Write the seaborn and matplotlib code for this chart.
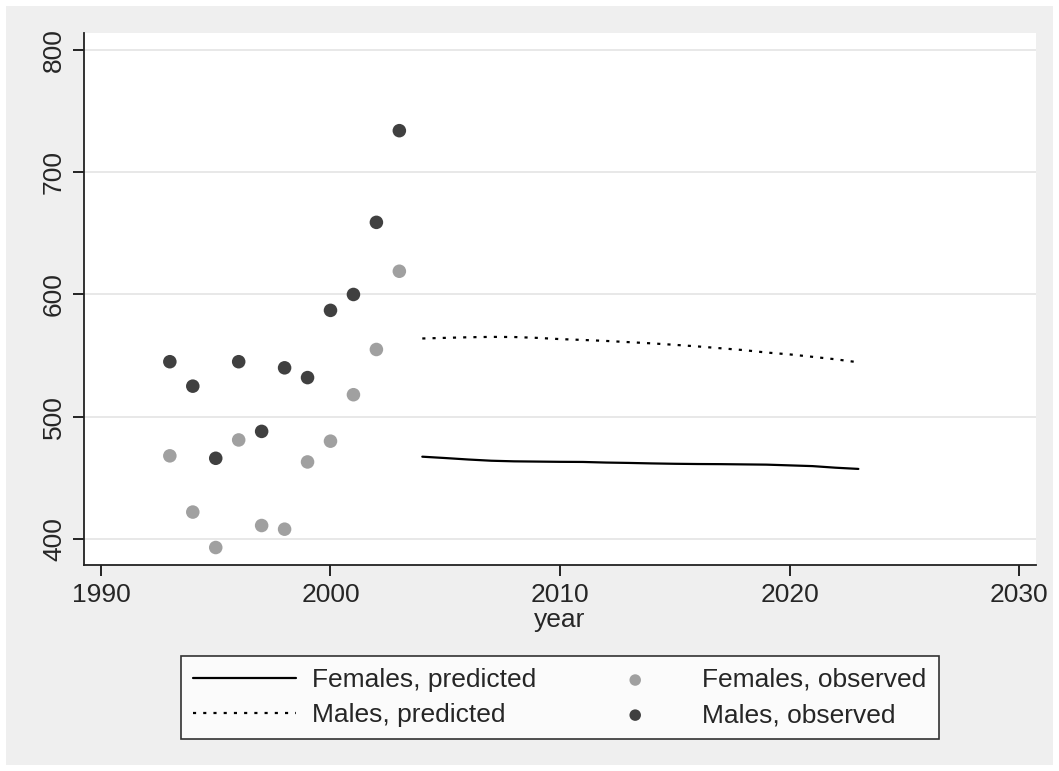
#!/usr/bin/env python3
import matplotlib
matplotlib.use('Agg')
import matplotlib.pyplot as plt
from matplotlib.patches import Rectangle
import seaborn as sns
import pandas as pd

# Observed values
obs_years = [1993, 1994, 1995, 1996, 1997, 1998, 1999, 2000, 2001, 2002, 2003]
females_obs = [468, 422, 393, 481, 411, 408, 463, 480, 518, 555, 619]
males_obs = [545, 525, 466, 545, 488, 540, 532, 587, 600, 659, 734]

# Predicted values
pred_years = list(range(2004, 2024))
females_pred = [467.3, 466.2, 465.0, 464.0, 463.5, 463.3, 463.1, 463.0, 462.5, 462.2,
                461.8, 461.5, 461.3, 461.2, 461.0, 460.8, 460.2, 459.6, 458.3, 457.3]
males_pred = [564.0, 564.5, 565.0, 565.3, 565.2, 564.5, 563.5, 562.8, 562.0, 561.0,
              560.0, 558.8, 557.5, 556.0, 554.5, 552.5, 551.0, 549.0, 547.0, 544.5]

xticks = [1990, 2000, 2010, 2020, 2030]
yticks = [400, 500, 600, 700, 800]

obs = pd.DataFrame({'year': obs_years, 'females': females_obs, 'males': males_obs})
pred = pd.DataFrame({'year': pred_years, 'females': females_pred, 'males': males_pred})

sns.set_style('white')
plt.rcParams['font.family'] = ['Liberation Sans', 'DejaVu Sans']

fig = plt.figure(figsize=(10.59, 7.71), dpi=100)
fig.patch.set_facecolor('white')
# Stata-like grey outer region
fig.patches.append(Rectangle((6 / 1059, 6 / 771), 1047 / 1059, 759 / 771,
                             transform=fig.transFigure, facecolor='#efefef',
                             edgecolor='none', zorder=-10))
ax = fig.add_axes([84 / 1059, 1 - 565 / 771, 952 / 1059, 532 / 771])
ax.set_facecolor('white')

sns.lineplot(data=pred, x='year', y='females', ax=ax, color='black', lw=1.6,
             label='Females, predicted')
sns.lineplot(data=pred, x='year', y='males', ax=ax, color='black', lw=1.6,
             linestyle=(0, (1.4, 3.2)), label='Males, predicted')
sns.scatterplot(data=obs, x='year', y='females', ax=ax, color='#a0a0a0', s=95,
                edgecolor='none', label='Females, observed')
sns.scatterplot(data=obs, x='year', y='males', ax=ax, color='#404040', s=95,
                edgecolor='none', label='Males, observed')

ax.set_xlim(1989.26, 2030.74)
ax.set_ylim(378.7, 813.9)
ax.set_xticks(xticks)
ax.set_yticks(yticks)
ax.set_yticklabels([str(v) for v in yticks], rotation=90, va='center')
ax.grid(axis='y', color='#e6e6e6', lw=1.3)
ax.grid(axis='x', visible=False)
ax.tick_params(axis='both', direction='out', length=8, width=1.2, color='black',
               labelsize=19, pad=5, left=True, bottom=True)
for s in ['top', 'right']:
    ax.spines[s].set_visible(False)
for s in ['left', 'bottom']:
    ax.spines[s].set_color('#222222')
    ax.spines[s].set_linewidth(1.3)
ax.set_xlabel('year', fontsize=19, labelpad=1)
ax.set_ylabel('')

handles, labels = ax.get_legend_handles_labels()
ax.get_legend().remove()
leg = fig.legend(handles, labels, ncol=2, loc='center',
                 bbox_to_anchor=(560 / 1059, 1 - 697.5 / 771), fontsize=19,
                 frameon=True, fancybox=False, edgecolor='black',
                 handlelength=3.9, handletextpad=0.6, columnspacing=1.8,
                 labelspacing=0.42, borderpad=0.45, markerscale=0.85)
leg.get_frame().set_linewidth(1.2)
leg.get_frame().set_facecolor('white')

fig.savefig('out.png', dpi=100)
